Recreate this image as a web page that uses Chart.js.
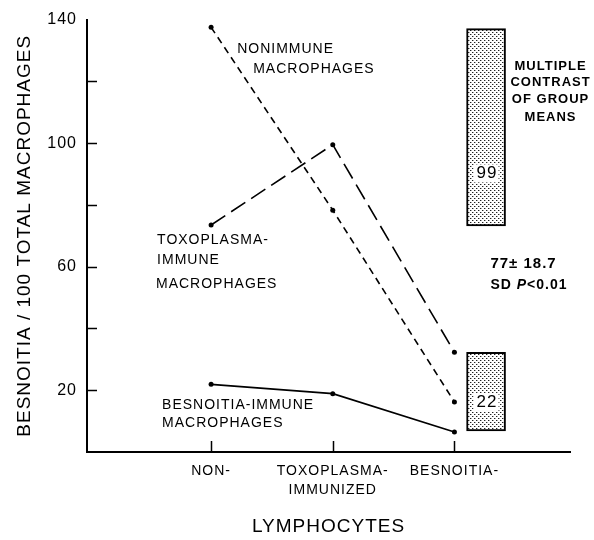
<!DOCTYPE html>
<html>
<head>
<meta charset="utf-8">
<script src="https://cdn.jsdelivr.net/npm/chart.js@4"></script>
<style>
  body { margin: 0; background: #fff; }
  #wrap { width: 594px; height: 540px; }
</style>
</head>
<body>
<div id="wrap"><canvas id="chart" width="594" height="540"></canvas></div>
<script>
// lymphocyte groups (x = 1, 2, 3)
const groups = [['NON-'], ['TOXOPLASMA-', 'IMMUNIZED'], ['BESNOITIA-']];
const groupX = [1, 2, 3];

// besnoitia per 100 macrophages
const nonImmune = [137.5, 78.3, 16.2];
const toxoImmune = [73.5, 99.5, 32.3];
const besnoitiaImmune = [21.9, 18.9, 6.5];

// multiple contrast of group means (low, high) and the printed means
const contrastX = 3.26;
const contrastRanges = [[73.2, 137.1], [6.8, 32.3]];
const contrastMeans = ['99', '22'];

const yLabelTicks = [20, 60, 100, 140];

function dotPattern() {
    const c = document.createElement('canvas');
    c.width = 4; c.height = 4;
    const g = c.getContext('2d');
    g.fillStyle = '#fff';
    g.fillRect(0, 0, 4, 4);
    g.fillStyle = '#222';
    g.fillRect(0, 0, 1, 1);
    g.fillRect(2, 2, 1, 1);
    g.fillStyle = '#aaa';
    g.fillRect(1, 0, 1, 1);
    g.fillRect(3, 2, 1, 1);
    return g.createPattern(c, 'repeat');
}

function pts(values) {
    return values.map((v, i) => ({ x: groupX[i], y: v }));
}

const FONT = '"Liberation Sans", Arial, sans-serif';

// text notes, placed in data units
const notes = [
    { t: 'NONIMMUNE', x: 1.214, y: 130.5 },
    { t: 'MACROPHAGES', x: 1.346, y: 123.8 },
    { t: 'TOXOPLASMA-', x: 0.556, y: 68.6 },
    { t: 'IMMUNE', x: 0.556, y: 62.2 },
    { t: 'MACROPHAGES', x: 0.547, y: 54.5 },
    { t: 'BESNOITIA-IMMUNE', x: 0.597, y: 15.1 },
    { t: 'MACROPHAGES', x: 0.597, y: 9.3 },
    { t: 'MULTIPLE', x: 3.79, y: 124.7, c: true, b: true },
    { t: 'CONTRAST', x: 3.79, y: 119.6, c: true, b: true },
    { t: 'OF GROUP', x: 3.79, y: 114.1, c: true, b: true },
    { t: 'MEANS', x: 3.79, y: 108.3, c: true, b: true },
    { t: '77\u00b1 18.7', x: 3.296, y: 60.9, size: 15, b: true }
];
const meanLabelY = [90.2, 16.2];

const spacingPlugin = {
    id: 'spacing',
    beforeDraw(chart) {
        chart.ctx.letterSpacing = '1px';
    }
};

const decorPlugin = {
    id: 'decor',
    afterDraw(chart) {
        const ctx = chart.ctx;
        const xs = chart.scales.x, ys = chart.scales.y;
        const area = chart.chartArea;
        ctx.save();
        ctx.letterSpacing = '1px';
        ctx.strokeStyle = '#000';
        ctx.lineWidth = 1.5;
        // inward tick marks
        ctx.beginPath();
        groupX.forEach(v => {
            const px = Math.round(xs.getPixelForValue(v)) + 0.5;
            ctx.moveTo(px, area.bottom);
            ctx.lineTo(px, area.bottom - 11);
        });
        for (let v = 20; v < 140; v += 20) {
            const py = Math.round(ys.getPixelForValue(v)) + 0.5;
            ctx.moveTo(area.left, py);
            ctx.lineTo(area.left + 10, py);
        }
        ctx.stroke();

        ctx.fillStyle = '#000';
        ctx.textBaseline = 'middle';
        notes.forEach(n => {
            ctx.font = (n.b ? 'bold ' : '') + (n.size || (n.b ? 13 : 14)) + 'px ' + FONT;
            ctx.textAlign = n.c ? 'center' : 'left';
            ctx.fillText(n.t, xs.getPixelForValue(n.x), ys.getPixelForValue(n.y));
        });

        // SD P<0.01 with italic P
        let px = xs.getPixelForValue(3.296);
        const py = ys.getPixelForValue(54.1);
        ctx.textAlign = 'left';
        ctx.font = 'bold 14px ' + FONT;
        ctx.fillText('SD ', px, py);
        px += ctx.measureText('SD ').width;
        ctx.font = 'italic bold 14px ' + FONT;
        ctx.fillText('P', px, py);
        px += ctx.measureText('P').width;
        ctx.font = 'bold 14px ' + FONT;
        ctx.fillText('<0.01', px, py);

        // mean values inside the contrast boxes
        ctx.font = '17px ' + FONT;
        ctx.textAlign = 'center';
        contrastMeans.forEach((m, i) => {
            const cx = xs.getPixelForValue(contrastX);
            const cy = ys.getPixelForValue(meanLabelY[i]);
            const w = ctx.measureText(m).width + 4;
            ctx.fillStyle = '#fff';
            ctx.fillRect(cx - w / 2, cy - 9, w, 18);
            ctx.fillStyle = '#000';
            ctx.fillText(m, cx + 1, cy);
        });
        ctx.restore();
    }
};

const lineStyle = {
    type: 'line',
    borderColor: '#000',
    borderWidth: 1.6,
    pointRadius: 2.5,
    pointBackgroundColor: '#000',
    pointBorderColor: '#000',
    pointBorderWidth: 0,
    fill: false,
    tension: 0
};

new Chart(document.getElementById('chart'), {
    type: 'line',
    data: {
        datasets: [
            Object.assign({ label: 'Nonimmune macrophages', data: pts(nonImmune), borderDash: [7, 5] }, lineStyle),
            Object.assign({ label: 'Toxoplasma-immune macrophages', data: pts(toxoImmune), borderDash: [17, 7] }, lineStyle),
            Object.assign({ label: 'Besnoitia-immune macrophages', data: pts(besnoitiaImmune) }, lineStyle),
            {
                type: 'bar',
                label: 'Multiple contrast of group means',
                data: contrastRanges.map(r => ({ x: contrastX, y: r })),
                backgroundColor: dotPattern(),
                borderColor: '#000',
                borderWidth: 2,
                borderSkipped: false,
                barThickness: 39,
                grouped: false,
                order: 10
            }
        ]
    },
    options: {
        responsive: false,
        animation: false,
        events: [],
        layout: { padding: { top: 18, right: 24, left: 0, bottom: 0 } },
        plugins: {
            legend: { display: false },
            tooltip: { enabled: false }
        },
        scales: {
            x: {
                type: 'linear',
                min: -0.02,
                max: 3.95,
                offset: false,
                afterFit(scale) { scale.height = 88; },
                afterBuildTicks(scale) {
                    scale.ticks = groupX.map(v => ({ value: v }));
                },
                grid: { display: true, drawOnChartArea: false, drawTicks: false },
                border: { display: true, color: '#000', width: 2 },
                ticks: {
                    color: '#000',
                    padding: 9,
                    font: { family: FONT, size: 14, lineHeight: 1.4 },
                    callback: (v) => groups[groupX.indexOf(v)] || ''
                },
                title: {
                    display: true,
                    text: 'LYMPHOCYTES',
                    color: '#000',
                    font: { family: FONT, size: 19 },
                    padding: { top: 0, bottom: 2 }
                }
            },
            y: {
                min: 0,
                max: 140,
                afterFit(scale) { scale.width = 87; },
                grid: { display: true, drawOnChartArea: false, drawTicks: false },
                border: { display: true, color: '#000', width: 2 },
                ticks: {
                    stepSize: 20,
                    color: '#000',
                    padding: 10,
                    font: { family: FONT, size: 16 },
                    callback: (v) => yLabelTicks.includes(v) ? String(v) : ''
                },
                title: {
                    display: true,
                    text: 'BESNOITIA / 100 TOTAL MACROPHAGES',
                    color: '#000',
                    font: { family: FONT, size: 19 },
                    padding: { top: 13, bottom: 0 }
                }
            }
        }
    },
    plugins: [spacingPlugin, decorPlugin]
});
</script>
</body>
</html>
